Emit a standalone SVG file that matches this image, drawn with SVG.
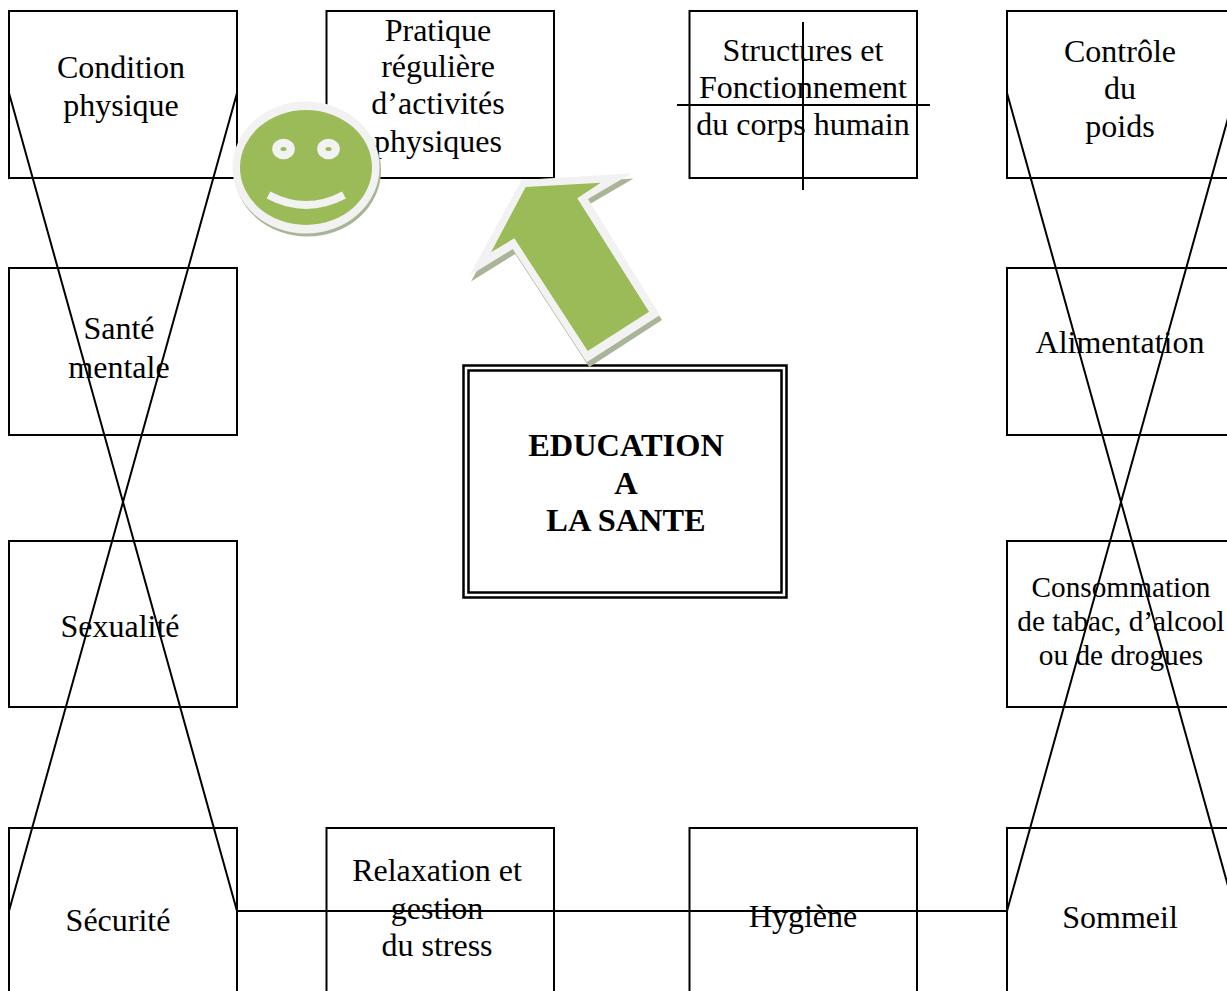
<svg xmlns="http://www.w3.org/2000/svg" width="1227" height="991" viewBox="0 0 1227 991">
<style>
.b{fill:#fff;stroke:#000;stroke-width:2}
.d{fill:#fff;stroke:#000;stroke-width:2.5}
.l{fill:none;stroke:#000;stroke-width:2}
text{font-family:"Liberation Serif","Times New Roman",serif;font-size:32px;fill:#000;text-anchor:middle}
.h{font-weight:bold;font-size:32.4px}
.c{font-size:29.300px}
.s{fill:#a9b597}.w{fill:#f2f2f2}.g{fill:#9bbb59}
</style>
<rect width="1227" height="991" fill="#fff"/>
<g id="n-condition"><rect class="b" x="9" y="11" width="228" height="167"/><text x="121" y="78">Condition</text><text x="121" y="116">physique</text></g>
<g id="n-pratique"><rect class="b" x="326.500" y="11" width="227.500" height="167"/><text x="438" y="41">Pratique</text><text x="438" y="77">régulière</text><text x="438" y="114">d’activités</text><text x="438" y="152">physiques</text></g>
<g id="n-structures"><rect class="b" x="689.500" y="11" width="227.500" height="167"/><text x="803" y="61">Structures et</text><text x="803" y="98">Fonctionnement</text><text x="803" y="135">du corps humain</text></g>
<g id="n-controle"><rect class="b" x="1007" y="11" width="228" height="167"/><text x="1120" y="62">Contrôle</text><text x="1120" y="99">du</text><text x="1120" y="137">poids</text></g>
<g id="n-sante"><rect class="b" x="9" y="268" width="228" height="167"/><text x="119" y="339">Santé</text><text x="119" y="378">mentale</text></g>
<g id="n-alimentation"><rect class="b" x="1007" y="268" width="228" height="167"/><text x="1120" y="353">Alimentation</text></g>
<g id="n-sexualite"><rect class="b" x="9" y="541" width="228" height="166"/><text x="120" y="637">Sexualité</text></g>
<g id="n-consommation"><rect class="b" x="1007" y="541" width="228" height="166"/><text class="c" x="1121" y="597">Consommation</text><text class="c" x="1121" y="631">de tabac, d’alcool</text><text class="c" x="1121" y="665">ou de drogues</text></g>
<g id="n-securite"><rect class="b" x="9" y="828" width="228" height="175"/><text x="118" y="931">Sécurité</text></g>
<g id="n-relaxation"><rect class="b" x="326.500" y="828" width="227.500" height="175"/><text x="437" y="881">Relaxation et</text><text x="437" y="919">gestion</text><text x="437" y="956">du stress</text></g>
<g id="n-hygiene"><rect class="b" x="689.500" y="828" width="227.500" height="175"/><text x="803" y="927">Hygiène</text></g>
<g id="n-sommeil"><rect class="b" x="1007" y="828" width="228" height="175"/><text x="1120" y="928">Sommeil</text></g>
<g id="n-education"><rect class="d" x="463.500" y="365.500" width="323" height="232"/><rect class="d" x="468.500" y="370.500" width="313" height="222"/><text class="h" x="626" y="456">EDUCATION</text><text class="h" x="626" y="494">A</text><text class="h" x="626" y="531">LA SANTE</text></g>
<g id="connectors">
<path class="l" d="M9 93L237 911M237 93L9 911M237 911H1007M1007 911L1235 93M1007 93L1235 911M803 22V190M677 105H930"/>
</g>
<g id="n-arrow">
<polygon class="s" points="523.500,185 633.500,178.500 590,204 662,320 589.200,367.300 515.200,254 471,281.500"/>
<polygon class="w" points="521.700,180 631.700,173.300 588,199 660,315 586.700,362.300 512.700,249 469.300,275.700"/>
<polygon class="g" points="525.700,187 600.700,182.700 577.300,198.300 649,311.700 587.700,351 514.300,238.300 491,252.300"/>
</g>
<g id="n-smiley">
<ellipse class="s" cx="307.500" cy="170.500" rx="73.500" ry="66"/>
<ellipse class="w" cx="306" cy="167.500" rx="73.500" ry="66"/>
<ellipse class="g" cx="306" cy="167.500" rx="66" ry="57.500"/>
<ellipse class="w" cx="283.500" cy="149" rx="11.300" ry="10.300"/><ellipse class="w" cx="328.500" cy="149" rx="11.300" ry="10.300"/>
<ellipse class="g" cx="283.500" cy="149" rx="3" ry="2"/><ellipse class="g" cx="328.500" cy="149" rx="3" ry="2"/>
<path d="M268.500 195Q306 215 344 195" fill="none" stroke="#f2f2f2" stroke-width="8"/>
</g>
</svg>
